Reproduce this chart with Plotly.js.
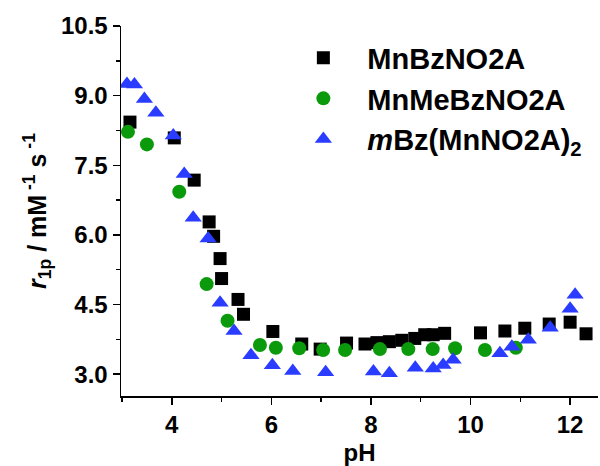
<!DOCTYPE html>
<html>
<head>
<meta charset="utf-8">
<script src="https://cdn.plot.ly/plotly-3.0.1.min.js"></script>
<style>html,body{margin:0;padding:0;background:#fff;}#chart{width:600px;height:466px;}</style>
</head>
<body>
<div id="chart"></div>
<script>
// MnBzNO2A (black squares)
var pH_A = [3.16, 4.05, 4.45, 4.75, 4.84, 4.97, 5.00, 5.33, 5.44, 6.03, 6.61, 6.98, 7.51, 7.88, 8.12, 8.37, 8.62, 8.88, 9.08, 9.25, 9.48, 10.20, 10.69, 11.09, 11.58, 12.00, 12.32];
var r1p_A = [8.43, 8.09, 7.18, 6.28, 5.97, 5.49, 5.06, 4.61, 4.29, 3.92, 3.65, 3.54, 3.67, 3.65, 3.68, 3.70, 3.73, 3.77, 3.85, 3.85, 3.88, 3.89, 3.93, 3.99, 4.08, 4.12, 3.87];
// MnMeBzNO2A (green circles)
var pH_B = [3.12, 3.50, 4.15, 4.70, 5.12, 5.77, 6.09, 6.56, 7.04, 7.48, 8.18, 8.75, 9.24, 9.69, 10.29, 10.91];
var r1p_B = [8.22, 7.95, 6.93, 4.94, 4.15, 3.63, 3.57, 3.56, 3.52, 3.52, 3.54, 3.54, 3.54, 3.56, 3.52, 3.57];
// mBz(MnNO2A)2 (blue triangles)
var pH_C = [3.10, 3.25, 3.45, 3.68, 4.03, 4.25, 4.43, 4.73, 4.97, 5.25, 5.59, 6.02, 6.43, 7.09, 8.05, 8.37, 8.89, 9.25, 9.45, 9.65, 10.59, 10.83, 11.16, 11.60, 12.00, 12.10];
var r1p_C = [9.25, 9.24, 8.93, 8.63, 8.14, 7.31, 6.37, 5.92, 4.54, 3.93, 3.41, 3.19, 3.07, 3.04, 3.06, 3.02, 3.14, 3.12, 3.20, 3.31, 3.45, 3.59, 3.74, 4.00, 4.41, 4.71];

var seriesNames = ['MnBzNO2A', 'MnMeBzNO2A', '<i>m</i>Bz(MnNO2A)<sub>2</sub>'];
var xTickVals = [4, 6, 8, 10, 12];
var yTickVals = [3.0, 4.5, 6.0, 7.5, 9.0, 10.5];
var yTickText = ['3.0', '4.5', '6.0', '7.5', '9.0', '10.5'];

var FONT = 'Liberation Sans, Arial, sans-serif';

var traces = [
  {x: pH_A, y: r1p_A, name: seriesNames[0], type: 'scatter', mode: 'markers',
   marker: {symbol: 'square', size: 13, color: '#000000'}},
  {x: pH_B, y: r1p_B, name: seriesNames[1], type: 'scatter', mode: 'markers',
   marker: {symbol: 'circle', size: 14, color: '#0b9a0b'}},
  {x: pH_C, y: r1p_C, name: seriesNames[2], type: 'scatter', mode: 'markers',
   marker: {symbol: 'triangle-up', size: 15, color: '#2a3cff'}}
];

var layout = {
  width: 600, height: 466,
  margin: {l: 121, r: 2, t: 26, b: 70, pad: 0},
  paper_bgcolor: '#ffffff', plot_bgcolor: '#ffffff',
  font: {family: FONT, color: '#000', size: 24, weight: 'bold'},
  showlegend: true,
  legend: {x: 0.332, y: 0.983, xanchor: 'left', yanchor: 'top', bgcolor: 'rgba(0,0,0,0)',
           font: {family: FONT, size: 29, color: '#000', weight: 'bold'}, itemwidth: 78,
           tracegroupgap: 0},
  xaxis: {
    range: [2.98, 12.56], showgrid: false, zeroline: false,
    showline: true, linecolor: '#000', linewidth: 1.5,
    ticks: 'outside', ticklen: 7, tickwidth: 1.5, tickcolor: '#000',
    tickvals: xTickVals, ticktext: xTickVals.map(String),
    tickfont: {family: FONT, size: 24, weight: 'bold'},
    minor: {dtick: 1, tick0: 3, ticks: 'outside', ticklen: 4, tickwidth: 1.5, tickcolor: '#000'},
    title: {text: 'pH', font: {family: FONT, size: 24, weight: 'bold'}, standoff: 7},
    automargin: false
  },
  yaxis: {
    range: [2.53, 10.5], showgrid: false, zeroline: false,
    showline: true, linecolor: '#000', linewidth: 1.5,
    ticks: 'outside', ticklen: 7, tickwidth: 1.5, tickcolor: '#000',
    tickvals: yTickVals, ticktext: yTickText,
    tickfont: {family: FONT, size: 24, weight: 'bold'},
    minor: {dtick: 0.75, tick0: 3, ticks: 'outside', ticklen: 4, tickwidth: 1.5, tickcolor: '#000'},
    title: {text: '<i>r</i><sub>1p</sub> / mM<sup>\u00a0-1</sup> s<sup>\u00a0-1</sup>', font: {family: FONT, size: 25, weight: 'bold'}, standoff: 7},
    automargin: false
  },
  xaxis2: {
    overlaying: 'x', side: 'top', anchor: 'y', matches: 'x', range: [2.98, 12.56],
    showgrid: false, zeroline: false, showline: true, linecolor: '#000', linewidth: 1.5,
    ticks: 'inside', ticklen: 7, tickwidth: 1.5, tickcolor: '#000',
    tickvals: xTickVals, showticklabels: false,
    minor: {dtick: 1, tick0: 3, ticks: 'inside', ticklen: 4, tickwidth: 1.5, tickcolor: '#000'}
  },
  yaxis2: {
    overlaying: 'y', side: 'right', anchor: 'x', matches: 'y', range: [2.53, 10.5],
    showgrid: false, zeroline: false, showline: true, linecolor: '#000', linewidth: 1.5,
    ticks: 'inside', ticklen: 7, tickwidth: 1.5, tickcolor: '#000',
    tickvals: yTickVals, showticklabels: false,
    minor: {dtick: 0.75, tick0: 3, ticks: 'inside', ticklen: 4, tickwidth: 1.5, tickcolor: '#000'}
  }
};

Plotly.newPlot('chart', traces, layout, {staticPlot: true, displayModeBar: false});
</script>
</body>
</html>
